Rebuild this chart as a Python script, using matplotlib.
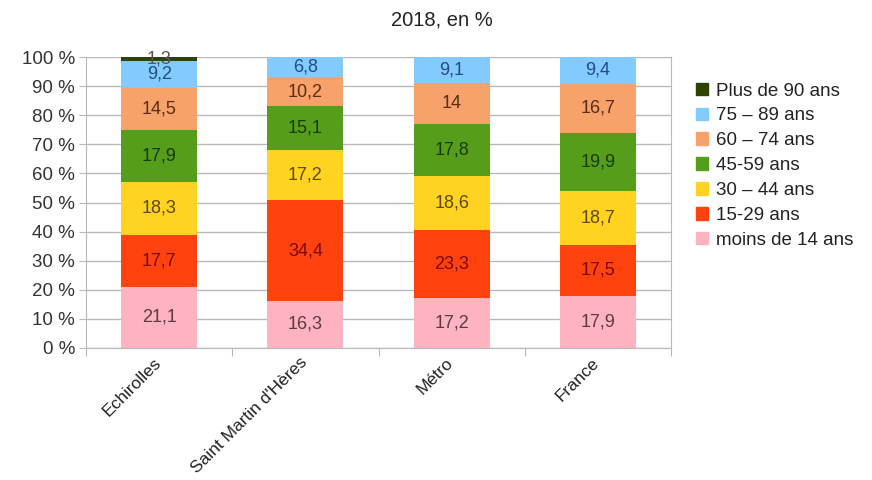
import matplotlib
matplotlib.use("Agg")
import matplotlib.pyplot as plt
import matplotlib.transforms as mtransforms
import numpy as np
from matplotlib.patches import Patch

plt.rcParams['font.family'] = ['Liberation Sans', 'DejaVu Sans']

categories = ["Echirolles", "Saint Martin d'Hères", "Métro", "France"]
series_names = ["moins de 14 ans", "15-29 ans", "30 – 44 ans", "45-59 ans",
                "60 – 74 ans", "75 – 89 ans", "Plus de 90 ans"]
moins14 = [21.1, 16.3, 17.2, 17.9]
a15_29 = [17.7, 34.4, 23.3, 17.5]
a30_44 = [18.3, 17.2, 18.6, 18.7]
a45_59 = [17.9, 15.1, 17.8, 19.9]
a60_74 = [14.5, 10.2, 14.0, 16.7]
a75_89 = [9.2, 6.8, 9.1, 9.4]
plus90 = [1.3, 0.0, 0.0, 0.0]
series = [moins14, a15_29, a30_44, a45_59, a60_74, a75_89, plus90]

colors = ["#ffb3c1", "#ff420e", "#ffd320", "#579d1c", "#f6a26a", "#83caff", "#314004"]
label_colors = ["#5b3b42", "#7a0a10", "#5e4a00", "#173c05", "#5a2c10", "#1d4f86", "#555555"]

fig = plt.figure(figsize=(8.72, 4.8), dpi=100)
ax = fig.add_axes([86/872, 1-348/480, (671-86)/872, (348-57)/480])

x = np.arange(len(categories))
bottom = np.zeros(len(categories))
handles = []
for vals, name, c, lc in zip(series, series_names, colors, label_colors):
    vals = np.array(vals)
    ax.bar(x, vals, 0.52, bottom=bottom, color=c, zorder=3, linewidth=0)
    for xi, v, b in zip(x, vals, bottom):
        if v > 0:
            ax.text(xi, b + v/2, f"{v:g}".replace(".", ","), ha='center', va='center',
                    fontsize=13, color=lc, zorder=4)
    bottom += vals
    handles.append(Patch(color=c, label=name))

ax.set_xlim(-0.5, len(categories) - 0.5)
ax.set_ylim(0, 100)
ax.set_yticks(np.arange(0, 101, 10))
ax.set_yticklabels([f"{v} %" for v in range(0, 101, 10)], fontsize=13.5, color="#333333")
ax.yaxis.grid(True, color="#b8b8b8", linewidth=1, zorder=0)
ax.tick_params(axis='y', length=5, color="#b8b8b8", pad=3)

ax.set_xticks(np.arange(-0.5, len(categories)), minor=False)
ax.set_xticklabels([])
ax.tick_params(axis='x', which='major', length=6, color="#b8b8b8")
ax.set_xticks(x, minor=True)
ax.set_xticklabels(categories, minor=True, rotation=45, ha='right',
                   rotation_mode='anchor', fontsize=12.5, color="#222222")
ax.tick_params(axis='x', which='minor', length=0, pad=5)
offset = mtransforms.ScaledTranslation(-6/100, 0, fig.dpi_scale_trans)
for lbl in ax.get_xticklabels(minor=True):
    lbl.set_transform(lbl.get_transform() + offset)

ax.spines['top'].set_visible(False)
for s in ['left', 'right', 'bottom']:
    ax.spines[s].set_color("#b8b8b8")

fig.text(0.507, 1-20/480, "2018, en %", ha='center', va='center', fontsize=14.5, color="#222222")

leg = fig.legend(handles=handles[::-1], loc='upper left', bbox_to_anchor=(688/872, 1-75/480),
                 frameon=False, fontsize=13.5, handlelength=0.65, handleheight=0.65,
                 handletextpad=0.45, labelspacing=0.42, borderaxespad=0)
for t in leg.get_texts():
    t.set_color("#222222")

fig.savefig("out.png", dpi=100)
